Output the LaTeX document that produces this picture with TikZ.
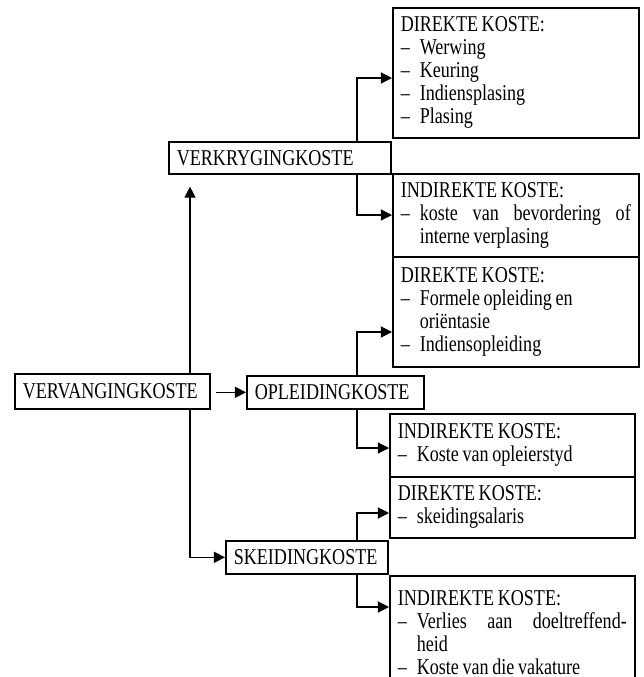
\documentclass[tikz,border=0pt]{standalone}
\usepackage{fontspec}
\setmainfont{Liberation Serif}[FakeStretch=0.8,WordSpace=0.8]
\usetikzlibrary{arrows.meta}
\setlength{\parindent}{0pt}
\hyphenpenalty=10000
\newcommand{\itm}[1]{\par\hangindent=9.5pt\hangafter=1\makebox[9.5pt][l]{--}#1}
\newcommand{\lys}[2]{\begin{minipage}{#1}\fontsize{11.3}{11.5}\selectfont #2\end{minipage}}

\tikzset{
  kas/.style={draw, line width=0.8pt, anchor=north west, inner xsep=4pt, inner ysep=0pt,
    fill=white, font=\fontsize{11.3}{11.5}\selectfont},
  pyl/.style={line width=0.6pt, -{Triangle[length=5.5pt,width=5.5pt]}}
}

\begin{document}
\begin{tikzpicture}[x=0.5pt,y=-0.5pt]
\useasboundingbox (0,0) rectangle (644,677);
\coordinate (vurk) at (357,0);
\coordinate (stam) at (190,0);
\node[kas, minimum height=65pt] (d1) at (392,7)
  {\lys{115pt}{DIREKTE KOSTE:\itm{Werwing}\itm{Keuring}\itm{Indiensplasing}\itm{Plasing}}};
\node[kas, text width=103pt, minimum height=16pt] (verkryging) at (168,141) {VERKRYGINGKOSTE};
\node[kas, minimum height=41.5pt] (i1) at (392,173)
  {\lys{115pt}{INDIREKTE KOSTE:\itm{koste van bevordering of\linebreak interne verplasing}}};
\node[kas, minimum height=55pt] (d2) at (392,256)
  {\lys{115pt}{DIREKTE KOSTE:\itm{Formele opleiding en\\oriëntasie}\itm{Indiensopleiding}}};
\node[kas, text width=89.5pt, minimum height=17.5pt] (vervanging) at (14,373) {VERVANGINGKOSTE};
\node[kas, text width=80.5pt, minimum height=16.5pt] (opleiding) at (246,375) {OPLEIDINGKOSTE};
\node[kas, minimum height=31.5pt] (i2) at (389,413)
  {\lys{114.5pt}{INDIREKTE KOSTE:\itm{Koste van opleierstyd}}};
\node[kas, minimum height=30.5pt] (d3) at (389,476)
  {\lys{114.5pt}{DIREKTE KOSTE:\itm{skeidingsalaris}}};
\node[kas, text width=73pt, minimum height=16.5pt] (skeiding) at (225,540) {SKEIDINGKOSTE};
\node[kas, minimum height=57pt] (i3) at (389,575)
  {\lys{114.5pt}{INDIREKTE KOSTE:\itm{Verlies aan doeltreffend-\linebreak heid}\itm{Koste van die vakature}}};
\draw[pyl] (verkryging.north -| vurk) |- (d1.west |- 0,78);
\draw[pyl] (verkryging.south -| vurk) |- (i1.west |- 0,215);
\draw[pyl, shorten >=6pt] (vervanging.north -| stam) -- (verkryging.south -| stam);
\draw[pyl] (vervanging.south -| stam) |- (skeiding.west);
\draw[pyl, shorten <=2.5pt] (vervanging.east |- opleiding.west) -- (opleiding.west);
\draw[pyl] (opleiding.north -| vurk) |- (d2.west |- 0,332);
\draw[pyl] (opleiding.south -| vurk) |- (i2.west |- 0,448);
\draw[pyl] (skeiding.north -| vurk) |- (d3.west |- 0,513);
\draw[pyl] (skeiding.south -| vurk) |- (i3.west |- 0,607);
\end{tikzpicture}
\end{document}
